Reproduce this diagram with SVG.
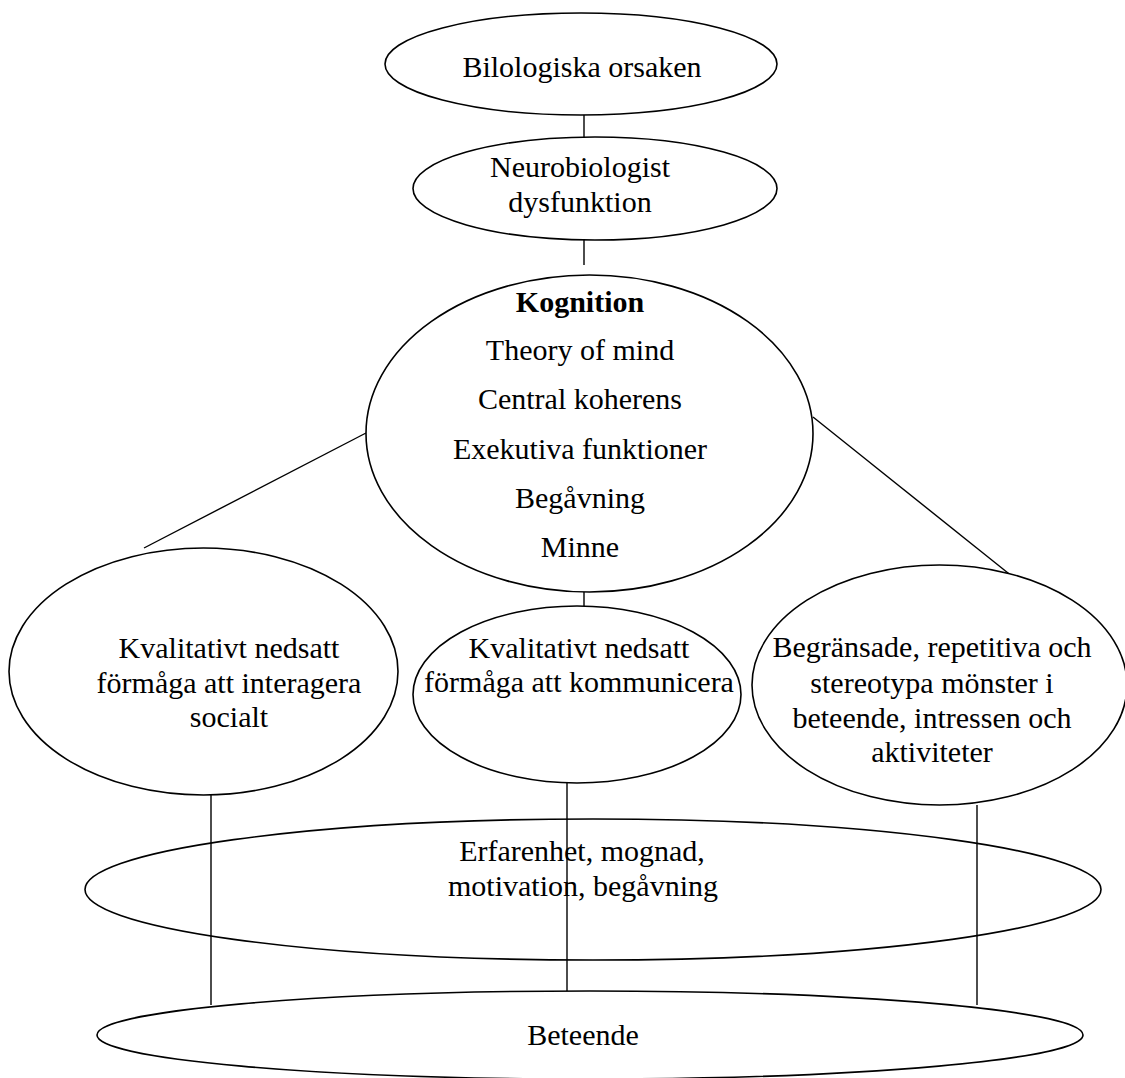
<svg xmlns="http://www.w3.org/2000/svg" width="1125" height="1078" viewBox="0 0 1125 1078">
<style>
.n{fill:#fff;stroke:#000;stroke-width:1.6}
.c{stroke:#000;stroke-width:1.4;fill:none}
text{font-family:"Liberation Serif","Times New Roman",serif;font-size:30px;fill:#000;text-anchor:middle}
.b{font-weight:bold}
</style>
<rect width="1125" height="1078" fill="#fff"/>
<g id="connectors">
<line class="c" x1="584" y1="115" x2="584" y2="137"/>
<line class="c" x1="584" y1="240" x2="584" y2="265"/>
<line class="c" x1="584" y1="592" x2="584" y2="606"/>
<line class="c" x1="366" y1="433" x2="144" y2="548"/>
<line class="c" x1="813" y1="417" x2="1013" y2="577"/>
</g>
<g id="n1"><ellipse class="n" cx="581" cy="64" rx="196" ry="51"/><text x="582" y="77">Bilologiska orsaken</text></g>
<g id="n2"><ellipse class="n" cx="595" cy="188.5" rx="182" ry="51.5"/><text x="580" y="177">Neurobiologist</text><text x="580" y="212">dysfunktion</text></g>
<g id="n3"><ellipse class="n" cx="589.5" cy="433.5" rx="223.5" ry="158.5"/>
<text x="580" y="312" class="b">Kognition</text>
<text x="580" y="360">Theory of mind</text>
<text x="580" y="409">Central koherens</text>
<text x="580" y="459">Exekutiva funktioner</text>
<text x="580" y="508">Begåvning</text>
<text x="580" y="557">Minne</text></g>
<g id="n4"><ellipse class="n" cx="203.5" cy="671.5" rx="194.5" ry="123.5"/>
<text x="229" y="658">Kvalitativt nedsatt</text><text x="229" y="693">förmåga att interagera</text><text x="229" y="727">socialt</text></g>
<g id="n5"><ellipse class="n" cx="577" cy="694.5" rx="164" ry="88.5"/>
<text x="579" y="658">Kvalitativt nedsatt</text><text x="579" y="692">förmåga att kommunicera</text></g>
<g id="n6"><ellipse class="n" cx="939.5" cy="685" rx="187.5" ry="120"/>
<text x="932" y="657">Begränsade, repetitiva och</text><text x="932" y="693">stereotypa mönster i</text><text x="932" y="728">beteende, intressen och</text><text x="932" y="762">aktiviteter</text></g>
<g id="n7"><ellipse class="n" cx="593" cy="889.5" rx="508" ry="70.5" fill="none" style="fill:none"/>
<text x="582" y="861">Erfarenhet, mognad,</text><text x="583" y="896">motivation, begåvning</text></g>
<g id="n8"><ellipse class="n" cx="590" cy="1035" rx="493" ry="44"/><text x="583" y="1045">Beteende</text></g>
<g id="connectors2">
<line class="c" x1="211" y1="795" x2="211" y2="1005"/>
<line class="c" x1="567" y1="783" x2="567" y2="991"/>
<line class="c" x1="977" y1="805" x2="977" y2="1005"/>
</g>
</svg>
